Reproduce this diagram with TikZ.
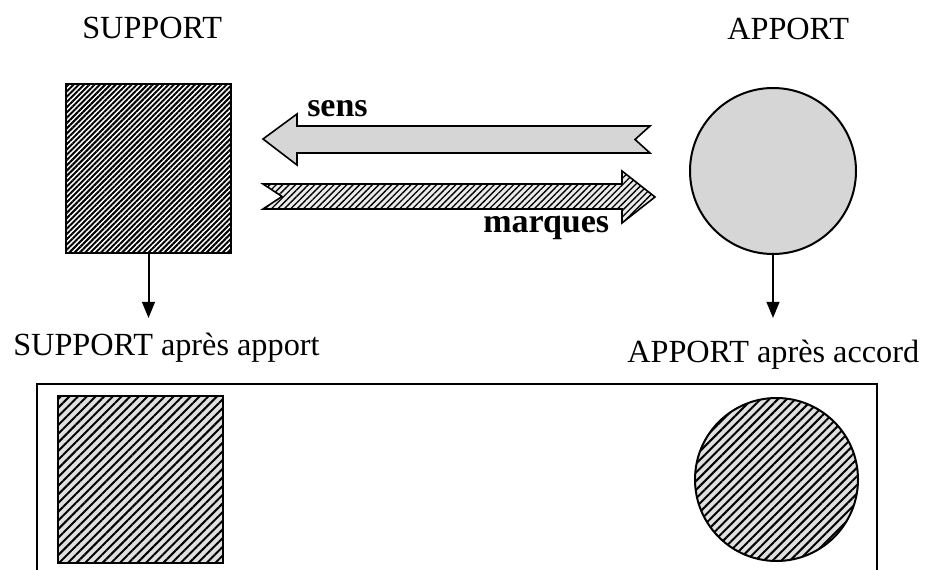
\documentclass[tikz,border=0pt]{standalone}
\usepackage{fontspec}
\setmainfont{Liberation Serif}
\usetikzlibrary{arrows.meta,patterns.meta}
\tikzset{
  titre/.style={anchor=base west,inner sep=0pt,font=\fontsize{24.2}{28}\selectfont},
  etiq/.style={anchor=base west,inner sep=0pt,font=\fontsize{25.5}{30}\selectfont\bfseries},
  carre/.style={draw,line width=1.5pt,outer sep=0pt,inner sep=0pt,minimum width=123.75pt,minimum height=126.75pt},
  rond/.style={circle,draw,line width=1.5pt,outer sep=0pt,inner sep=0pt,minimum size=124.5pt},
  raye/.style={pattern={Lines[angle=45,distance=2.8pt,line width=1.5pt]}},
  grise/.style={fill=black!16},
  rayeclair/.style={preaction={fill=black!8},pattern={Lines[angle=45,distance=3.4pt,line width=1pt]}},
  rayegris/.style={preaction={fill=black!12},pattern={Lines[angle=45,distance=4.6pt,line width=1.5pt]}},
  bas/.style={-{Triangle[length=12pt,width=9.5pt]},line width=1.5pt},
  grosse/.style={draw,line width=1.2pt,line join=miter}
}
\begin{document}
\begin{tikzpicture}[x=0.75pt,y=-0.75pt]
  \useasboundingbox (0,0) rectangle (925,570);

  % avant l'accord
  \node[titre] (tsup) at (82,39) {SUPPORT};
  \node[titre] (tapp) at (727,40) {APPORT};
  \node[carre,raye] (sup) at (148.5,168.5) {};
  \node[rond,grise] (app) at (773,171) {};

  % sens et marques
  \draw[grosse,grise] (263,139) -- (297,114) -- (297,126) -- (650,126) -- (635,139.5)
    -- (650,153) -- (297,153) -- (297,165) -- cycle;
  \node[etiq] (sens) at (307,117) {sens};
  \draw[grosse,rayeclair] (263,184) -- (282,196.5) -- (263,209) -- (622,209) -- (622,223)
    -- (655,197) -- (622,171) -- (622,184) -- cycle;
  \node[etiq] (marq) at (483,233) {marques};

  \coordinate (fsup) at (148.5,318);
  \coordinate (fapp) at (773,318);
  \draw[bas] (sup.south) -- (fsup);
  \draw[bas] (app.south) -- (fapp);

  % apres l'accord
  \node[titre] (tsup2) at (13,356) {SUPPORT après apport};
  \node[titre] (tapp2) at (627,363) {APPORT après accord};
  \draw[line width=1.2pt] (37,570) -- (37,384) -- (877,384) -- (877,570);
  \node[carre,rayegris,line width=1.8pt,minimum height=125.25pt] (sup2) at (140.5,479.5) {};
  \node[rond,rayegris,minimum size=122.25pt] (app2) at (776.5,479.5) {};
\end{tikzpicture}
\end{document}
